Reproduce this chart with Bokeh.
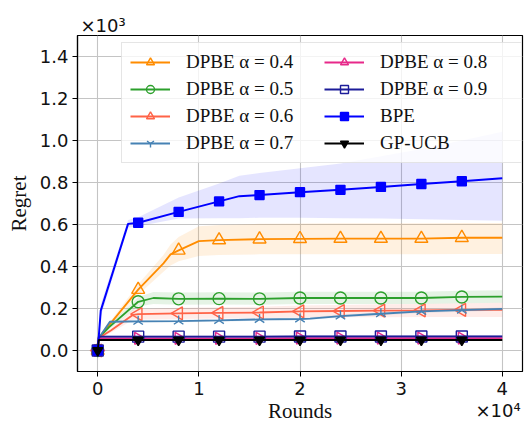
import numpy as np
from bokeh.plotting import figure
from bokeh.models import (Range1d, Legend, LegendItem, FixedTicker, Title,
                          LinearAxis, CustomJSTickFormatter)
from bokeh.embed import file_html
from bokeh.resources import INLINE

# ---------------- data (regret vs rounds) ----------------
MARKER_ROUNDS = [0, 4000, 8000, 12000, 16000, 20000, 24000, 28000, 32000, 36000]
X_TICKS = [0, 10000, 20000, 30000, 40000]
Y_TICKS = [0, 200, 400, 600, 800, 1000, 1200, 1400]

labels = ["DPBE α = 0.4", "DPBE α = 0.5", "DPBE α = 0.6", "DPBE α = 0.7",
          "DPBE α = 0.8", "DPBE α = 0.9", "BPE", "GP-UCB"]

a04_x = [0, 100, 4000, 6500, 7200, 8000, 10000, 12000, 16000, 20000, 24000, 28000, 32000, 36000, 40000]
a04_y = [0, 60, 290, 415, 458, 477, 521, 526, 530, 532, 533, 533, 533, 537, 537]
a04_lo = [0, 55, 265, 375, 405, 425, 450, 455, 458, 458, 458, 458, 458, 460, 460]
a04_hi = [0, 65, 315, 455, 505, 540, 592, 598, 603, 605, 606, 606, 606, 607, 607]

a05_x = [0, 100, 1100, 4000, 5500, 8000, 12000, 16000, 20000, 24000, 28000, 32000, 36000, 40000]
a05_y = [0, 60, 110, 232, 250, 246, 247, 246, 250, 250, 250, 250, 255, 257]
a05_lo = [0, 55, 100, 210, 222, 218, 219, 218, 221, 221, 221, 221, 225, 227]
a05_hi = [0, 65, 120, 255, 278, 276, 277, 276, 280, 280, 280, 280, 285, 287]

a06_x = [0, 100, 1300, 3500, 4000, 8000, 12000, 16000, 20000, 24000, 28000, 32000, 36000, 40000]
a06_y = [0, 60, 95, 170, 173, 177, 179, 181, 186, 188, 190, 191, 193, 194]
a06_lo = [0, 55, 85, 146, 148, 150, 152, 154, 157, 158, 158, 159, 160, 160]
a06_hi = [0, 65, 105, 194, 198, 204, 206, 208, 214, 217, 220, 222, 225, 227]

a07_x = [0, 100, 1200, 4000, 8000, 12000, 16000, 20000, 21000, 24000, 28000, 32000, 36000, 40000]
a07_y = [0, 60, 137, 139, 140, 143, 148, 150, 152, 164, 175, 186, 192, 198]
a07_lo = [0, 56, 131, 133, 134, 137, 142, 144, 146, 157, 168, 179, 185, 191]
a07_hi = [0, 64, 143, 145, 146, 149, 154, 156, 158, 171, 182, 193, 199, 205]

a08_x = [0, 100, 4000, 8000, 12000, 16000, 20000, 24000, 28000, 32000, 36000, 40000]
a08_y = [0, 58, 58, 58, 58, 58, 59, 59, 59, 59, 59, 59]
a08_lo = [0, 54, 54, 54, 54, 54, 55, 55, 55, 55, 55, 55]
a08_hi = [0, 62, 62, 62, 62, 62, 63, 63, 63, 63, 63, 63]

a09_x = [0, 100, 4000, 8000, 12000, 16000, 20000, 24000, 28000, 32000, 36000, 40000]
a09_y = [0, 66, 66, 66, 66, 66, 67, 67, 67, 67, 67, 67]
a09_lo = [0, 60, 60, 60, 60, 60, 61, 61, 61, 61, 61, 61]
a09_hi = [0, 72, 72, 72, 72, 72, 73, 73, 73, 73, 73, 73]

bpe_x = [0, 300, 3000, 4000, 8000, 12000, 14000, 16000, 20000, 24000, 28000, 32000, 36000, 40000]
bpe_y = [0, 190, 603, 608, 660, 710, 735, 740, 754, 765, 779, 793, 806, 820]
bpe_lo = [0, 160, 585, 592, 628, 630, 630, 632, 632, 630, 628, 625, 622, 618]
bpe_hi = [0, 220, 622, 634, 728, 795, 832, 845, 868, 890, 925, 960, 1000, 1042]

gp_x = [0, 100, 4000, 8000, 12000, 16000, 20000, 24000, 28000, 32000, 36000, 40000]
gp_y = [0, 50, 50, 50, 50, 50, 50, 50, 50, 50, 50, 50]
gp_lo = [0, 47, 47, 47, 47, 47, 47, 47, 47, 47, 47, 47]
gp_hi = [0, 53, 53, 53, 53, 53, 53, 53, 53, 53, 53, 53]

series = [
    (a04_x, a04_y, a04_lo, a04_hi),
    (a05_x, a05_y, a05_lo, a05_hi),
    (a06_x, a06_y, a06_lo, a06_hi),
    (a07_x, a07_y, a07_lo, a07_hi),
    (a08_x, a08_y, a08_lo, a08_hi),
    (a09_x, a09_y, a09_lo, a09_hi),
    (bpe_x, bpe_y, bpe_lo, bpe_hi),
    (gp_x, gp_y, gp_lo, gp_hi),
]

# ---------------- styles ----------------
styles = [
    dict(color="#ff8c00", marker="triangle", angle=0.0, size=13, fill=None, band_alpha=0.12),
    dict(color="#2ca02c", marker="circle", angle=0.0, size=12, fill=None, band_alpha=0.12),
    dict(color="#ff6347", marker="triangle", angle=np.pi / 2, size=13, fill=None, band_alpha=0.12),
    dict(color="#4682b4", marker="y", angle=np.pi, size=11, fill=None, band_alpha=0.12),
    dict(color="#e7298a", marker="triangle", angle=-np.pi / 2, size=12, fill=None, band_alpha=0.2),
    dict(color="#1c1c99", marker="square", angle=0.0, size=11, fill=None, band_alpha=0.2),
    dict(color="#0000ff", marker="square", angle=0.0, size=9, fill="#0000ff", band_alpha=0.1),
    dict(color="#000000", marker="inverted_triangle", angle=0.0, size=10, fill="#000000", band_alpha=0.2),
]

TXT = "#111111"

p = figure(width=529, height=425, output_backend="svg", toolbar_location=None,
           x_range=Range1d(-2000, 42000), y_range=Range1d(-100, 1500),
           min_border_left=77, min_border_right=7, min_border_top=35, min_border_bottom=50)

p.background_fill_color = "white"
p.border_fill_color = "white"
p.outline_line_color = "black"
p.outline_line_width = 1.2

# offset text of the y axis (above the frame)
p.add_layout(Title(text="×10³", align="left", offset=3, standoff=0,
                   text_font="DejaVu Sans", text_font_size="18px",
                   text_font_style="normal", text_color=TXT), "above")

for ax in (p.xaxis[0], p.yaxis[0]):
    ax.axis_line_color = "black"
    ax.axis_line_width = 1.2
    ax.major_tick_line_color = "black"
    ax.major_tick_out = 5
    ax.major_tick_in = 0
    ax.minor_tick_line_color = None
    ax.major_label_text_font = "DejaVu Sans"
    ax.major_label_text_font_size = "18px"
    ax.major_label_text_color = TXT

p.xaxis.ticker = FixedTicker(ticks=X_TICKS)
p.yaxis.ticker = FixedTicker(ticks=Y_TICKS)
p.xaxis.formatter = CustomJSTickFormatter(code="return (tick / 10000).toFixed(0);")
p.yaxis.formatter = CustomJSTickFormatter(code="return (tick / 1000).toFixed(1);")
p.xaxis.major_label_standoff = 5
p.yaxis.major_label_standoff = 4

p.yaxis.axis_label = "Regret"
p.yaxis.axis_label_text_font = "Liberation Serif"
p.yaxis.axis_label_text_font_size = "21px"
p.yaxis.axis_label_text_font_style = "normal"
p.yaxis.axis_label_text_color = TXT
p.yaxis.axis_label_standoff = 6

# second (label-only) x axis: "Rounds" centred and the ×10⁴ offset text at the right
p.extra_x_ranges = {"frac": Range1d(0, 1)}
ax2 = LinearAxis(x_range_name="frac", ticker=FixedTicker(ticks=[0.945]),
                 formatter=CustomJSTickFormatter(code="return '×10⁴';"),
                 axis_line_color=None, major_tick_line_color=None, minor_tick_line_color=None,
                 major_tick_out=0, major_tick_in=0, major_label_standoff=2,
                 major_label_text_font="DejaVu Sans", major_label_text_font_size="18px",
                 major_label_text_color=TXT,
                 axis_label="Rounds", axis_label_standoff=-25,
                 axis_label_text_font="Liberation Serif", axis_label_text_font_size="21px",
                 axis_label_text_font_style="normal", axis_label_text_color=TXT)
p.add_layout(ax2, "below")

p.xgrid.ticker = FixedTicker(ticks=X_TICKS)
p.ygrid.ticker = FixedTicker(ticks=Y_TICKS)
for g in (p.xgrid[0], p.ygrid[0]):
    g.grid_line_color = "#c4c4c4"
    g.grid_line_width = 1.1

items = []
for (xs, ys, lo, hi), st, lab in zip(series, styles, labels):
    p.varea(x=xs, y1=lo, y2=hi, fill_color=st["color"], fill_alpha=st["band_alpha"])
    lw = 2.0 if lab == "BPE" else 1.8
    lr = p.line(xs, ys, line_color=st["color"], line_width=lw)
    mx = [x for x in xs if x in MARKER_ROUNDS]
    my = [y for x, y in zip(xs, ys) if x in MARKER_ROUNDS]
    sr = p.scatter(mx, my, marker=st["marker"], size=st["size"], angle=st["angle"],
                   line_color=st["color"], line_width=1.4,
                   fill_color=st["fill"], fill_alpha=1.0 if st["fill"] else 0.0)
    items.append(LegendItem(label=lab, renderers=[lr, sr]))

legend = Legend(items=items, location=(44, 208), orientation="vertical", ncols=2,
                label_text_font="Liberation Serif", label_text_font_size="19px",
                label_text_color=TXT,
                glyph_width=40, glyph_height=20, label_height=20, label_standoff=16,
                label_width=133, spacing=5, padding=8, margin=0,
                border_line_color="#cccccc", border_line_width=1,
                background_fill_color="white", background_fill_alpha=0.8)
p.add_layout(legend, "center")

open("out.html", "w").write(file_html(p, INLINE))
